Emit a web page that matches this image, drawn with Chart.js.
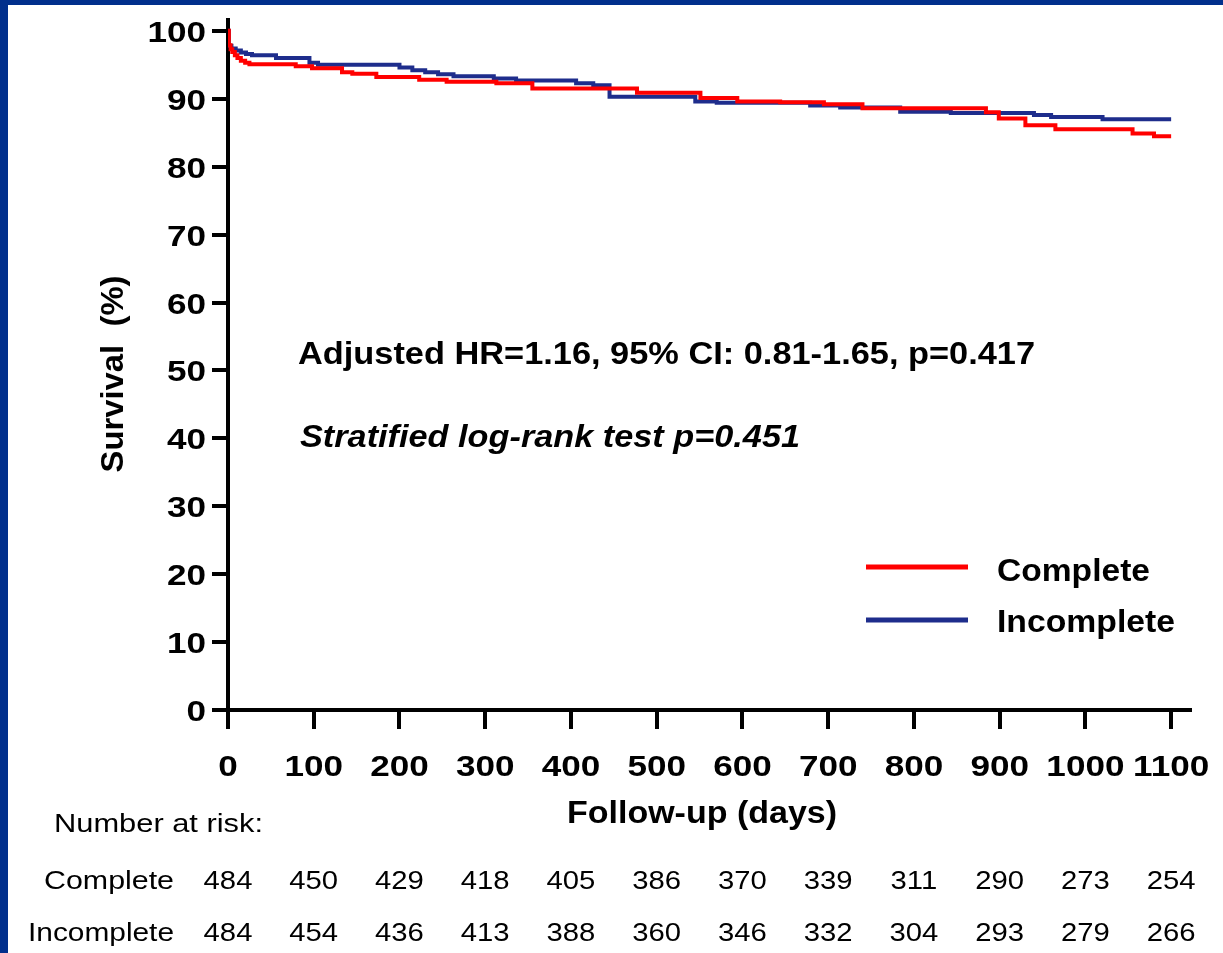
<!DOCTYPE html>
<html>
<head>
<meta charset="utf-8">
<script src="https://cdn.jsdelivr.net/npm/chart.js@4.4.1/dist/chart.umd.min.js"></script>
<style>
  html, body { margin: 0; padding: 0; width: 1223px; height: 953px; overflow: hidden; background: #012f8c; }
  #panel { position: absolute; left: 8px; top: 5px; right: 0; bottom: 0; background: #fff; }
  #survivalChart { position: absolute; left: 0; top: 0; }
</style>
</head>
<body>
<div id="panel"></div>
<canvas id="survivalChart" width="1223" height="953"></canvas>
<script>
// tick labels
const xTicks = [0, 100, 200, 300, 400, 500, 600, 700, 800, 900, 1000, 1100];
const yTicks = [0, 10, 20, 30, 40, 50, 60, 70, 80, 90, 100];

// Kaplan-Meier steps (day, survival %)
const completeDays = [0, 1, 3, 5, 8, 11, 15, 20, 25, 79, 98, 133, 145, 173, 223, 255, 313, 355, 477, 551, 594, 644, 695, 740, 884, 899, 930, 965, 1055, 1080, 1100];
const completeSurv = [100, 97.9, 97.3, 96.9, 96.4, 96.0, 95.6, 95.3, 95.1, 94.8, 94.5, 93.9, 93.7, 93.2, 92.8, 92.5, 92.3, 91.5, 90.9, 90.1, 89.6, 89.5, 89.2, 88.6, 88.0, 87.1, 86.1, 85.5, 84.9, 84.5, 84.5];

const incompleteDays = [0, 1, 4, 9, 15, 21, 28, 56, 95, 105, 200, 215, 230, 245, 263, 310, 336, 406, 426, 445, 545, 570, 679, 714, 784, 843, 940, 960, 1020, 1100];
const incompleteSurv = [100, 97.8, 97.4, 97.1, 96.8, 96.6, 96.4, 96.0, 95.3, 95.0, 94.6, 94.2, 93.9, 93.6, 93.3, 93.0, 92.7, 92.3, 92.0, 90.3, 89.6, 89.4, 89.0, 88.7, 88.1, 87.9, 87.6, 87.3, 87.0, 87.0];

// number at risk, one per x tick
const riskComplete = [484, 450, 429, 418, 405, 386, 370, 339, 311, 290, 273, 254];
const riskIncomplete = [484, 454, 436, 413, 388, 360, 346, 332, 304, 293, 279, 266];

const seriesNames = ['Complete', 'Incomplete'];
const seriesColors = ['#ff0000', '#1e2d8c'];

const FACE = '"Liberation Sans", Arial, Helvetica, sans-serif';

// the reference type is wider than Arial, so text gets a horizontal stretch
function putText(ctx, text, x, y, font, align, fit, rotate) {
    ctx.save();
    ctx.font = font;
    const w = ctx.measureText(text).width;
    const sx = fit.width ? fit.width / w : fit.sx;
    ctx.translate(x, y);
    if (rotate) ctx.rotate(-Math.PI / 2);
    ctx.scale(sx, 1);
    ctx.textAlign = align;
    ctx.textBaseline = 'alphabetic';
    ctx.fillStyle = '#000';
    ctx.fillText(text, 0, 0);
    ctx.restore();
}

const textPlugin = {
    id: 'kmText',
    afterDraw(chart) {
        const ctx = chart.ctx;
        const xs = chart.scales.x;
        const ys = chart.scales.y;
        const tickFont = 'bold 30px ' + FACE;
        const bigFont = 'bold 31px ' + FACE;

        xs.ticks.forEach(t => {
            putText(ctx, String(t.value), xs.getPixelForValue(t.value), 776, tickFont, 'center', { sx: 1.17 });
        });
        ys.ticks.forEach(t => {
            putText(ctx, String(t.value), 206, ys.getPixelForValue(t.value) + 11, tickFont, 'right', { sx: 1.17 });
        });

        // axis titles
        putText(ctx, 'Follow-up (days)', 702, 823, bigFont, 'center', { width: 270 });
        putText(ctx, 'Survival  (%)', 123, 374, bigFont, 'center', { width: 197 }, true);

        // statistics
        putText(ctx, 'Adjusted HR=1.16, 95% CI: 0.81-1.65, p=0.417', 298, 364, bigFont, 'left', { width: 737 });
        putText(ctx, 'Stratified log-rank test p=0.451', 300, 447, 'italic ' + bigFont, 'left', { width: 500 });

        // legend
        const legendY = [567, 620];
        const legendBase = [581, 632];
        const legendW = [153, 178];
        seriesNames.forEach((name, i) => {
            ctx.save();
            ctx.strokeStyle = seriesColors[i];
            ctx.lineWidth = 5;
            ctx.beginPath();
            ctx.moveTo(866, legendY[i]);
            ctx.lineTo(968, legendY[i]);
            ctx.stroke();
            ctx.restore();
            putText(ctx, name, 997, legendBase[i], bigFont, 'left', { width: legendW[i] });
        });

        // number at risk table
        const riskFont = '25px ' + FACE;
        putText(ctx, 'Number at risk:', 54, 832, riskFont, 'left', { width: 209 });
        putText(ctx, 'Complete', 174, 889, riskFont, 'right', { width: 130 });
        putText(ctx, 'Incomplete', 174, 941, riskFont, 'right', { width: 146 });
        xTicks.forEach((d, i) => {
            const px = xs.getPixelForValue(d);
            putText(ctx, String(riskComplete[i]), px, 889, riskFont, 'center', { sx: 1.17 });
            putText(ctx, String(riskIncomplete[i]), px, 941, riskFont, 'center', { sx: 1.17 });
        });
    }
};

const ctx = document.getElementById('survivalChart').getContext('2d');

new Chart(ctx, {
    type: 'line',
    data: {
        datasets: [
            {
                label: seriesNames[0],
                data: completeDays.map((d, i) => ({ x: d, y: completeSurv[i] })),
                borderColor: seriesColors[0],
                borderWidth: 4,
                stepped: true,
                pointRadius: 0,
                fill: false,
            },
            {
                label: seriesNames[1],
                data: incompleteDays.map((d, i) => ({ x: d, y: incompleteSurv[i] })),
                borderColor: seriesColors[1],
                borderWidth: 4,
                stepped: true,
                pointRadius: 0,
                fill: false,
            },
        ],
    },
    options: {
        responsive: false,
        animation: false,
        devicePixelRatio: 1,
        layout: { padding: { left: 0, top: 20, right: 33, bottom: 0 } },
        plugins: {
            legend: { display: false },
            tooltip: { enabled: false },
        },
        scales: {
            x: {
                type: 'linear',
                min: 0,
                max: 1122,
                afterBuildTicks: s => { s.ticks = xTicks.map(v => ({ value: v })); },
                afterFit: s => { s.height = 243; },
                ticks: { display: false },
                grid: { drawOnChartArea: false, drawTicks: true, tickLength: 19, color: '#000', lineWidth: 4 },
                border: { color: '#000', width: 4 },
            },
            y: {
                type: 'linear',
                min: 0,
                max: 101.6,
                afterBuildTicks: s => { s.ticks = yTicks.map(v => ({ value: v })); },
                afterFit: s => { s.width = 228; },
                ticks: { display: false },
                grid: { drawOnChartArea: false, drawTicks: true, tickLength: 16, color: '#000', lineWidth: 4 },
                border: { color: '#000', width: 4 },
            },
        },
    },
    plugins: [textPlugin],
});
</script>
</body>
</html>
